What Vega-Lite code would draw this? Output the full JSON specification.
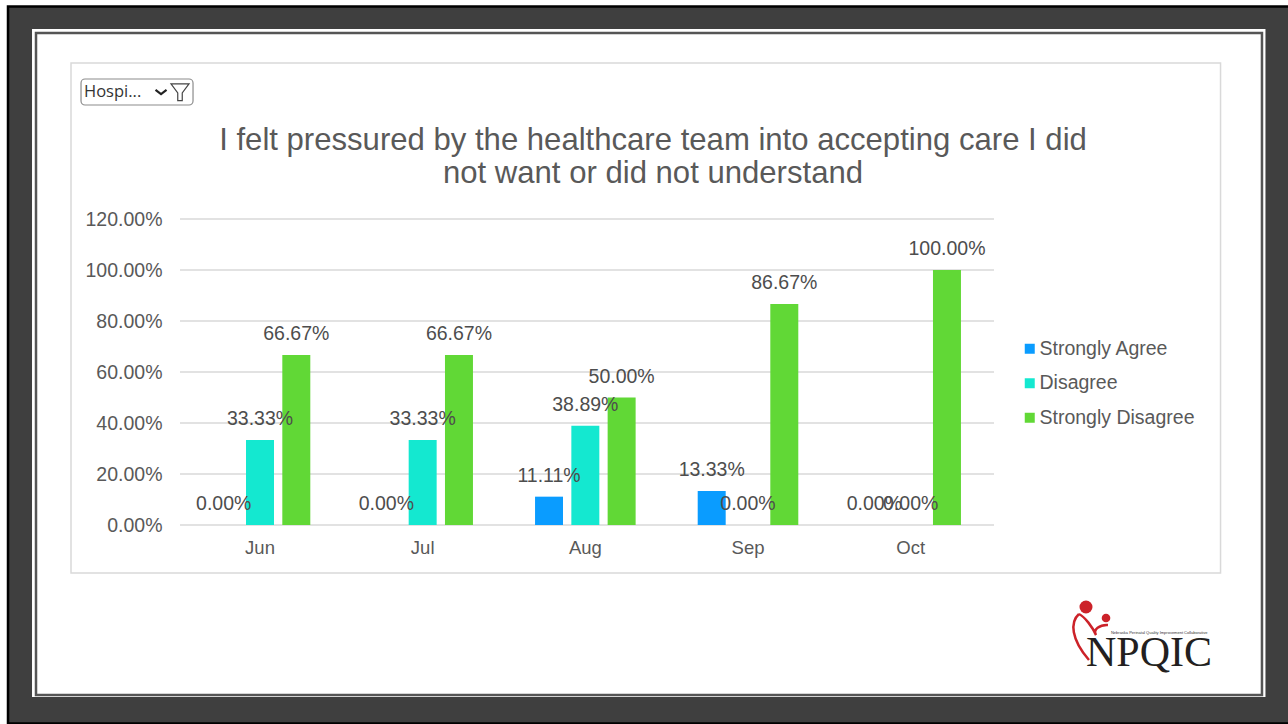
{"$schema":"https://vega.github.io/schema/vega-lite/v6.json","width":814,"height":306,"autosize":"none","padding":{"left":180,"top":219,"right":294,"bottom":199},"background":"#ffffff","config":{"view":{"stroke":null},"font":"Liberation Sans"},
"title":{"text":["I felt pressured by the healthcare team into accepting care I did","not want or did not understand"],"font":"Liberation Sans","fontSize":31.1,"fontWeight":"normal","color":"#595959","anchor":"middle","frame":"group","dx":66,"offset":0,"dy":184,"lineHeight":33,"zindex":1},
"data":{"values":[
{"month":"Jun","response":"Strongly Agree","share":0},{"month":"Jun","response":"Disagree","share":0.3333},{"month":"Jun","response":"Strongly Disagree","share":0.6667},
{"month":"Jul","response":"Strongly Agree","share":0},{"month":"Jul","response":"Disagree","share":0.3333},{"month":"Jul","response":"Strongly Disagree","share":0.6667},
{"month":"Aug","response":"Strongly Agree","share":0.1111},{"month":"Aug","response":"Disagree","share":0.3889},{"month":"Aug","response":"Strongly Disagree","share":0.5},
{"month":"Sep","response":"Strongly Agree","share":0.1333},{"month":"Sep","response":"Disagree","share":0},{"month":"Sep","response":"Strongly Disagree","share":0.8667},
{"month":"Oct","response":"Strongly Agree","share":0},{"month":"Oct","response":"Disagree","share":0},{"month":"Oct","response":"Strongly Disagree","share":1}]},
"resolve":{"scale":{"x":"independent"},"axis":{"x":"independent","y":"independent"}},
"layer":[
{"data":{"values":[{}]},"mark":{"type":"rect","fill":"#3f3f3f","stroke":"#000000","strokeWidth":2.5},"encoding":{"x":{"datum":-0.2113,"type":"quantitative","scale":{"domain":[0,1]},"axis":null},"x2":{"datum":1.366},"y":{"datum":2.0333,"type":"quantitative","scale":{"domain":[0,1.2]},"axis":null},"y2":{"datum":-0.7784}}},
{"data":{"values":[{}]},"mark":{"type":"rect","fill":"#ffffff"},"encoding":{"x":{"datum":-0.1818,"type":"quantitative","scale":{"domain":[0,1]},"axis":null},"x2":{"datum":1.3335},"y":{"datum":1.9451,"type":"quantitative","scale":{"domain":[0,1.2]},"axis":null},"y2":{"datum":-0.6745}}},
{"data":{"values":[{}]},"mark":{"type":"rect","fill":"#ffffff","stroke":"#555555","strokeWidth":2.5},"encoding":{"x":{"datum":-0.1769,"type":"quantitative","scale":{"domain":[0,1]},"axis":null},"x2":{"datum":1.3292},"y":{"datum":1.9294,"type":"quantitative","scale":{"domain":[0,1.2]},"axis":null},"y2":{"datum":-0.6667}}},
{"data":{"values":[{}]},"mark":{"type":"rect","fill":"#ffffff","stroke":"#d9d9d9","strokeWidth":1.5},"encoding":{"x":{"datum":-0.1339,"type":"quantitative","scale":{"domain":[0,1]},"axis":null},"x2":{"datum":1.2783},"y":{"datum":1.8118,"type":"quantitative","scale":{"domain":[0,1.2]},"axis":null},"y2":{"datum":-0.1882}}},
{"data":{"values":[{}]},"mark":{"type":"rect","fill":"#ffffff","stroke":"#8c8c8c","strokeWidth":1.2,"cornerRadius":4},"encoding":{"x":{"datum":-0.1216,"type":"quantitative","scale":{"domain":[0,1]},"axis":null},"x2":{"datum":0.016},"y":{"datum":1.749,"type":"quantitative","scale":{"domain":[0,1.2]},"axis":null},"y2":{"datum":1.647}}},
{"data":{"values":[{"label":"Hospi..."}]},"mark":{"type":"text","align":"left","baseline":"middle","font":"Open Sans","fontSize":16.5,"color":"#333333"},"encoding":{"text":{"field":"label"},"x":{"datum":-0.1179,"type":"quantitative","scale":{"domain":[0,1]},"axis":null},"y":{"datum":1.698,"type":"quantitative","scale":{"domain":[0,1.2]},"axis":null}}},
{"data":{"values":[{}]},"mark":{"type":"point","shape":"M -0.8,-0.3 L 0,0.3 L 0.8,-0.3","filled":false,"size":190,"stroke":"#222222","strokeWidth":2.2,"opacity":1},"encoding":{"x":{"datum":-0.0233,"type":"quantitative","scale":{"domain":[0,1]},"axis":null},"y":{"datum":1.698,"type":"quantitative","scale":{"domain":[0,1.2]},"axis":null}}},
{"data":{"values":[{}]},"mark":{"type":"point","shape":"M -1,-0.9 L 1,-0.9 L 0.25,0.1 L 0.25,0.95 L -0.25,0.95 L -0.25,0.1 Z","filled":false,"size":324,"stroke":"#444444","strokeWidth":1.2,"opacity":1},"encoding":{"x":{"datum":0,"type":"quantitative","scale":{"domain":[0,1]},"axis":null},"y":{"datum":1.698,"type":"quantitative","scale":{"domain":[0,1.2]},"axis":null}}},
{"data":{"values":[{"gridline":0},{"gridline":0.2},{"gridline":0.4},{"gridline":0.6},{"gridline":0.8},{"gridline":1},{"gridline":1.2}]},"mark":{"type":"rule","color":"#d9d9d9","strokeWidth":1.3},"encoding":{"x":{"datum":0,"type":"quantitative","scale":{"domain":[0,1]},"axis":null},"x2":{"datum":1},"y":{"field":"gridline","type":"quantitative","scale":{"domain":[0,1.2]},"axis":null}}},
{"mark":{"type":"bar"},"encoding":{
"x":{"field":"month","type":"nominal","sort":null,"scale":{"domain":["Jun","Jul","Aug","Sep","Oct"],"range":[-1.33,812],"paddingInner":0,"paddingOuter":0},"axis":{"title":null,"domain":false,"ticks":false,"labelAngle":0,"labelFontSize":18.5,"labelColor":"#595959","labelFont":"Liberation Sans","labelPadding":13,"zindex":1}},
"xOffset":{"field":"response","type":"nominal","scale":{"domain":["Strongly Agree","Disagree","Strongly Disagree"],"paddingInner":0.229,"paddingOuter":0.855}},
"y":{"field":"share","type":"quantitative","scale":{"domain":[0,1.2]},"axis":{"orient":"left","title":null,"domain":false,"ticks":false,"grid":false,"values":[0,0.2,0.4,0.6,0.8,1,1.2],"format":".2%","labelFontSize":19.5,"labelColor":"#595959","labelFont":"Liberation Sans","labelPadding":18,"zindex":1}},
"color":{"field":"response","type":"nominal","scale":{"domain":["Strongly Agree","Disagree","Strongly Disagree"],"range":["#0a9cff","#14e8d0","#61d836"]},"legend":{"title":null,"orient":"none","legendX":840,"legendY":120,"symbolType":"square","symbolSize":100,"symbolStrokeWidth":0,"labelFontSize":19.5,"labelColor":"#595959","labelFont":"Liberation Sans","labelOffset":0,"rowPadding":13.5,"zindex":1}}}},
{"mark":{"type":"text","font":"Liberation Sans","fontSize":19.5,"color":"#4d4d4d","baseline":"middle","dy":-21},"encoding":{
"x":{"field":"month","type":"nominal","sort":null,"scale":{"domain":["Jun","Jul","Aug","Sep","Oct"],"range":[-1.33,812],"paddingInner":0,"paddingOuter":0},"axis":null},
"xOffset":{"field":"response","type":"nominal","scale":{"domain":["Strongly Agree","Disagree","Strongly Disagree"],"paddingInner":0.229,"paddingOuter":0.855}},
"y":{"field":"share","type":"quantitative","scale":{"domain":[0,1.2]},"axis":null},
"text":{"field":"share","type":"quantitative","format":".2%"}}},
{"data":{"values":[{"label":"NPQIC"}]},"mark":{"type":"text","align":"center","baseline":"alphabetic","font":"Liberation Serif","fontSize":42,"color":"#231f20"},"encoding":{"text":{"field":"label"},"x":{"datum":1.1904,"type":"quantitative","scale":{"domain":[0,1]},"axis":null},"y":{"datum":-0.5529,"type":"quantitative","scale":{"domain":[0,1.2]},"axis":null}}},
{"data":{"values":[{"label":"Nebraska Perinatal Quality Improvement Collaborative"}]},"mark":{"type":"text","align":"left","baseline":"middle","font":"Liberation Sans","fontSize":4,"color":"#333333"},"encoding":{"text":{"field":"label"},"x":{"datum":1.1437,"type":"quantitative","scale":{"domain":[0,1]},"axis":null},"y":{"datum":-0.4235,"type":"quantitative","scale":{"domain":[0,1.2]},"axis":null}}},
{"data":{"values":[{}]},"mark":{"type":"circle","color":"#cc2229","size":169,"opacity":1},"encoding":{"x":{"datum":1.113,"type":"quantitative","scale":{"domain":[0,1]},"axis":null},"y":{"datum":-0.3216,"type":"quantitative","scale":{"domain":[0,1.2]},"axis":null}}},
{"data":{"values":[{}]},"mark":{"type":"circle","color":"#cc2229","size":74,"opacity":1},"encoding":{"x":{"datum":1.1376,"type":"quantitative","scale":{"domain":[0,1]},"axis":null},"y":{"datum":-0.3647,"type":"quantitative","scale":{"domain":[0,1.2]},"axis":null}}},
{"data":{"values":[{}]},"mark":{"type":"point","shape":"M -0.44,-0.92 C -0.8,-0.6 -0.76,0.1 -0.04,0.92 M -0.44,-0.92 C -0.2,-0.8 0.1,-0.4 0.24,-0.08 C 0.1,-0.3 0.4,-0.5 0.72,-0.48","filled":false,"size":2500,"stroke":"#cc2229","strokeWidth":2.5,"opacity":1},"encoding":{"x":{"datum":1.1179,"type":"quantitative","scale":{"domain":[0,1]},"axis":null},"y":{"datum":-0.4392,"type":"quantitative","scale":{"domain":[0,1.2]},"axis":null}}}
]}
